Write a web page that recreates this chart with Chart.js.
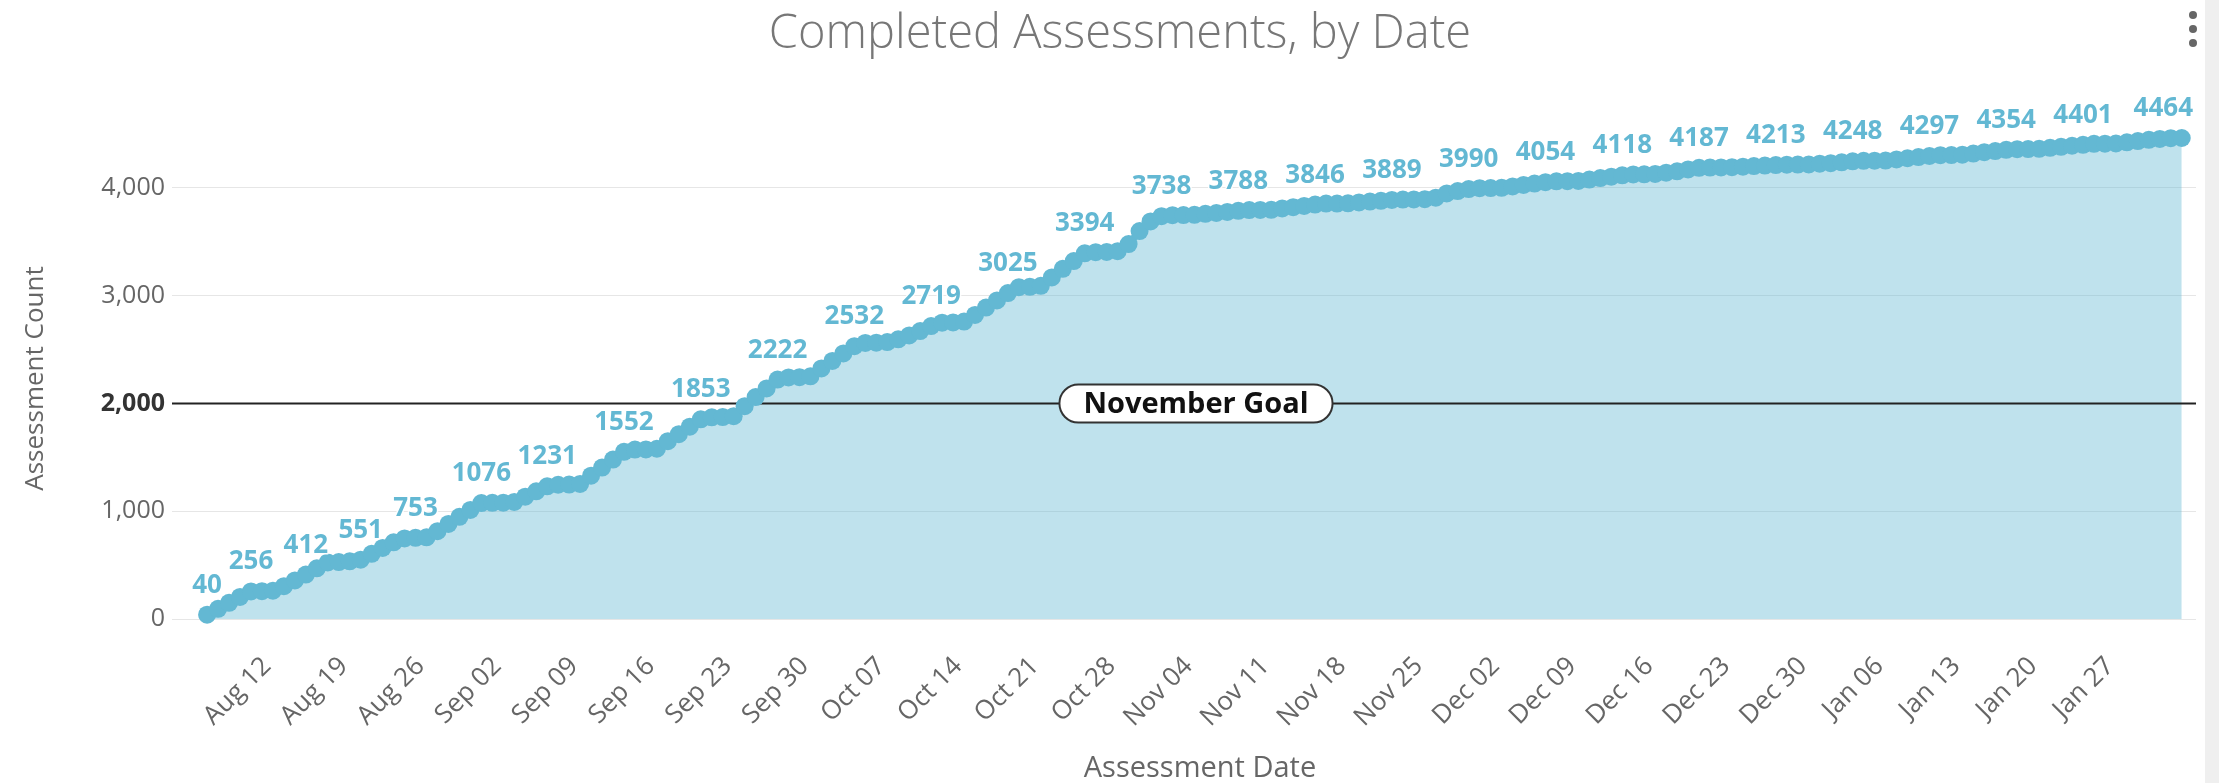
<!DOCTYPE html>
<html>
<head>
<meta charset="utf-8">
<title>Completed Assessments, by Date</title>
<script src="https://cdn.jsdelivr.net/npm/chart.js@4.4.1/dist/chart.umd.min.js"></script>
<style>
    html, body { margin: 0; padding: 0; background: #fff; overflow: hidden; }
    #wrap { position: relative; width: 2219px; height: 783px; }
    #chartBox { position: absolute; left: 0; top: 0; width: 2205px; height: 783px; }
    #title { position: absolute; left: 0; top: 0; width: 2240px; line-height: 60px; text-align: center;
             font-family: 'Open Sans', sans-serif; font-weight: 300; font-size: 47px; color: #777; }
    #xTitle { position: absolute; left: 0; top: 749px; width: 2400px; line-height: 34px; text-align: center;
              font-family: 'Open Sans', sans-serif; font-size: 29px; color: #666; }
    #menu { position: absolute; left: 2189px; top: 11px; width: 8px; }
    #menu span { display: block; width: 8px; height: 8px; border-radius: 50%; background: #666; margin-bottom: 6px; }
    #scrollStrip { position: absolute; left: 2205px; top: 0; width: 14px; height: 783px; background: #efefef; }
</style>
</head>
<body>
<div id="wrap">
    <div id="chartBox"><canvas id="assessChart"></canvas></div>
    <div id="title">Completed Assessments, by Date</div>
    <div id="xTitle">Assessment Date</div>
    <div id="menu"><span></span><span></span><span></span></div>
    <div id="scrollStrip"></div>
</div>
<script>
// 第一天：2019-08-06，之后每天一个点
const startDate = new Date(2019, 7, 6);

// 累计完成数（每日）
const totals = [
    40, 95, 150, 205, 256, 258, 263, 305, 358, 412,
    470, 525, 528, 535, 551, 605, 660, 712, 748, 753,
    758, 815, 882, 948, 1012, 1076, 1078, 1080, 1086, 1135,
    1185, 1231, 1246, 1248, 1254, 1330, 1405, 1480, 1552, 1572,
    1574, 1580, 1650, 1715, 1785, 1853, 1872, 1874, 1882, 1975,
    2060, 2140, 2222, 2242, 2244, 2252, 2325, 2395, 2465, 2532,
    2562, 2564, 2570, 2596, 2632, 2672, 2719, 2750, 2752, 2760,
    2822, 2890, 2957, 3025, 3080, 3083, 3092, 3170, 3250, 3322,
    3394, 3404, 3406, 3414, 3480, 3600, 3690, 3738, 3748, 3749,
    3751, 3760, 3768, 3778, 3788, 3795, 3796, 3798, 3810, 3822,
    3834, 3846, 3855, 3856, 3858, 3866, 3874, 3881, 3889, 3893,
    3894, 3896, 3910, 3950, 3972, 3990, 3998, 3999, 4002, 4015,
    4028, 4041, 4054, 4062, 4063, 4066, 4078, 4092, 4105, 4118,
    4126, 4127, 4130, 4142, 4155, 4172, 4187, 4190, 4191, 4193,
    4198, 4203, 4208, 4213, 4216, 4217, 4218, 4226, 4230, 4238,
    4248, 4252, 4253, 4255, 4265, 4276, 4287, 4297, 4305, 4306,
    4309, 4320, 4332, 4343, 4354, 4360, 4361, 4364, 4373, 4382,
    4392, 4401, 4410, 4411, 4413, 4424, 4436, 4447, 4455, 4462,
    4464
];

// 显示数值标签的点（天序号）
const labelledDays = [0, 4, 9, 14, 19, 25, 31, 38, 45, 52, 59, 66, 73, 80, 87,
    94, 101, 108, 115, 122, 129, 136, 143, 150, 157, 164, 171, 180];

// y轴刻度
const yTickValues = [0, 1000, 2000, 3000, 4000];

const goalValue = 2000;
const goalLabel = 'November Goal';
const monthNames = ['Jan', 'Feb', 'Mar', 'Apr', 'May', 'Jun', 'Jul', 'Aug', 'Sep', 'Oct', 'Nov', 'Dec'];

const lineColor = '#63b8d3';
const fillColor = 'rgba(99, 184, 211, 0.41)';
const fontFamily = "'Open Sans', sans-serif";

const dates = totals.map(function(v, i) {
    const d = new Date(startDate);
    d.setDate(d.getDate() + i);
    return d;
});

// 每周一一个刻度
const mondayDays = [];
dates.forEach(function(d, i) {
    if (d.getDay() === 1) mondayDays.push(i);
});

function dayLabel(i) {
    const d = dates[i];
    return monthNames[d.getMonth()] + ' ' + String(d.getDate()).padStart(2, '0');
}

// 目标线
const goalPlugin = {
    id: 'goalLine',
    beforeDatasetsDraw(chart) {
        const ctx = chart.ctx;
        const area = chart.chartArea;
        const y = chart.scales.y.getPixelForValue(goalValue);
        ctx.save();
        ctx.strokeStyle = '#222';
        ctx.lineWidth = 2;
        ctx.beginPath();
        ctx.moveTo(area.left, y);
        ctx.lineTo(area.right, y);
        ctx.stroke();
        ctx.restore();
    },
    afterDatasetsDraw(chart) {
        const ctx = chart.ctx;
        const area = chart.chartArea;
        const y = chart.scales.y.getPixelForValue(goalValue);
        const cx = (area.left + area.right) / 2 + 12;
        ctx.save();
        ctx.font = 'bold 29px ' + fontFamily;
        const w = ctx.measureText(goalLabel).width + 48;
        const h = 38;
        ctx.beginPath();
        ctx.roundRect(cx - w / 2, y - h / 2, w, h, h / 2);
        ctx.fillStyle = '#fff';
        ctx.fill();
        ctx.lineWidth = 2;
        ctx.strokeStyle = '#333';
        ctx.stroke();
        ctx.fillStyle = '#111';
        ctx.textAlign = 'center';
        ctx.textBaseline = 'middle';
        ctx.fillText(goalLabel, cx, y + 1);
        ctx.restore();
    }
};

// 数值标签
const valueLabelPlugin = {
    id: 'valueLabels',
    afterDatasetsDraw(chart) {
        const ctx = chart.ctx;
        const area = chart.chartArea;
        const meta = chart.getDatasetMeta(0);
        ctx.save();
        ctx.font = 'bold 26px ' + fontFamily;
        ctx.textAlign = 'center';
        ctx.textBaseline = 'alphabetic';
        ctx.lineJoin = 'round';
        labelledDays.forEach(function(i) {
            const pt = meta.data[i];
            const text = String(totals[i]);
            const w = ctx.measureText(text).width;
            let x = pt.x;
            if (x + w / 2 > area.right - 3) x = area.right - 3 - w / 2;
            const y = pt.y - 22;
            ctx.lineWidth = 3;
            ctx.strokeStyle = 'rgba(255,255,255,0.9)';
            ctx.strokeText(text, x, y);
            ctx.fillStyle = lineColor;
            ctx.fillText(text, x, y);
        });
        ctx.restore();
    }
};

const ctx = document.getElementById('assessChart').getContext('2d');
window.assessChart = new Chart(ctx, {
    type: 'line',
    data: {
        datasets: [{
            label: 'Completed',
            data: totals.map(function(v, i) { return { x: i, y: v }; }),
            borderColor: lineColor,
            backgroundColor: fillColor,
            fill: 'origin',
            borderWidth: 7,
            tension: 0,
            pointRadius: 9,
            pointHoverRadius: 9,
            pointBackgroundColor: lineColor,
            pointBorderWidth: 0,
            clip: false
        }]
    },
    options: {
        responsive: true,
        maintainAspectRatio: false,
        animation: false,
        events: [],
        layout: { padding: { top: 138, left: 0, right: 0, bottom: 0 } },
        plugins: {
            legend: { display: false },
            tooltip: { enabled: false },
            filler: { drawTime: 'beforeDatasetsDraw' }
        },
        scales: {
            x: {
                type: 'linear',
                min: -3.2,
                max: 181.3,
                grid: { display: false, drawTicks: false },
                border: { display: false },
                afterBuildTicks: function(scale) {
                    scale.ticks = mondayDays.map(function(d) { return { value: d }; });
                },
                afterFit: function(scale) { scale.height = 164; },
                ticks: {
                    autoSkip: false,
                    minRotation: 45,
                    maxRotation: 45,
                    padding: 32,
                    labelOffset: -6,
                    color: '#666',
                    font: { family: fontFamily, size: 26 },
                    callback: function(value) { return dayLabel(value); }
                }
            },
            y: {
                min: 0,
                max: Math.max.apply(null, totals),
                afterBuildTicks: function(scale) {
                    scale.ticks = yTickValues.map(function(v) { return { value: v }; });
                },
                afterFit: function(scale) { scale.width = 172; },
                grid: { color: '#e6e6e6', drawTicks: false },
                border: { display: false },
                ticks: {
                    padding: 7,
                    color: function(c) { return c.tick && c.tick.value === goalValue ? '#333' : '#666'; },
                    font: function(c) {
                        const bold = c.tick && c.tick.value === goalValue;
                        return { family: fontFamily, size: 25, weight: bold ? 'bold' : 'normal' };
                    },
                    callback: function(value) { return Number(value).toLocaleString('en-US'); }
                },
                title: {
                    display: true,
                    text: 'Assessment Count',
                    color: '#666',
                    font: { family: fontFamily, size: 26 },
                    padding: { top: 20, bottom: 0 }
                }
            }
        }
    },
    plugins: [goalPlugin, valueLabelPlugin]
});
</script>
</body>
</html>
